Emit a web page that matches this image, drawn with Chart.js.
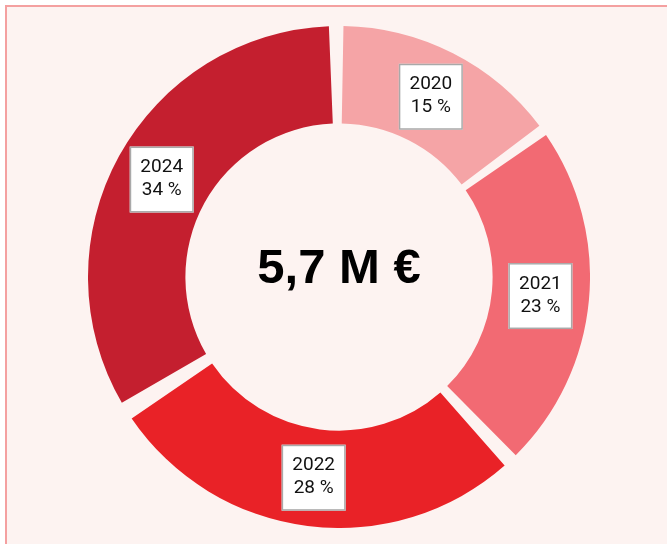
<!DOCTYPE html>
<html>
<head>
<meta charset="utf-8">
<script src="https://cdn.jsdelivr.net/npm/chart.js@4"></script>
<style>
  body { margin: 0; background: #fff; }
  #frame {
    position: absolute; left: 5px; top: 5px; width: 700px; height: 580px;
    border: 2px solid #f4a0a0; background: #fdf3f1;
  }
  #wrap { position: absolute; left: 88px; top: 26px; width: 502px; height: 502px; }
</style>
</head>
<body>
<div id="frame"></div>
<div id="wrap"><canvas id="donut"></canvas></div>
<script>
const years = ['2020', '2021', '2022', '2024'];
const shares = [15, 23, 28, 34];
const colors = ['#f5a4a6', '#f26a73', '#e92227', '#c41f2f'];
const totalLabel = '5,7 M €';

// white boxes with year + share on each slice
const sliceLabels = {
  id: 'sliceLabels',
  afterDatasetsDraw(chart) {
    const ctx = chart.ctx;
    const meta = chart.getDatasetMeta(0);
    ctx.save();
    ctx.font = '19px Roboto';
    ctx.textAlign = 'center';
    ctx.textBaseline = 'middle';
    meta.data.forEach((arc, i) => {
      const p = arc.getCenterPoint();
      const w = 64, h = 66;
      ctx.fillStyle = '#ffffff';
      ctx.fillRect(p.x - w / 2, p.y - h / 2, w, h);
      ctx.strokeStyle = '#a9a9a9';
      ctx.lineWidth = 1.5;
      ctx.strokeRect(p.x - w / 2 + 0.75, p.y - h / 2 + 0.75, w - 1.5, h - 1.5);
      ctx.fillStyle = '#111';
      ctx.fillText(years[i], p.x, p.y - 12);
      ctx.fillText(shares[i] + ' %', p.x, p.y + 11);
    });
    ctx.restore();
  }
};

const centerText = {
  id: 'centerText',
  afterDraw(chart) {
    const ctx = chart.ctx;
    const a = chart.getDatasetMeta(0).data[0];
    ctx.save();
    ctx.font = 'bold 49px "Liberation Sans"';
    ctx.fillStyle = '#000';
    ctx.textAlign = 'center';
    ctx.textBaseline = 'alphabetic';
    ctx.fillText(totalLabel, a.x, a.y + 6);
    ctx.restore();
  }
};

new Chart(document.getElementById('donut'), {
  type: 'doughnut',
  data: {
    labels: years,
    datasets: [
      {
        data: shares,
        backgroundColor: colors,
        borderWidth: 0,
        spacing: 15,
      },
    ],
  },
  options: {
    responsive: true,
    maintainAspectRatio: false,
    animation: false,
    cutout: '60%',
    plugins: {
      legend: { display: false },
      tooltip: { enabled: false },
    },
  },
  plugins: [sliceLabels, centerText],
});
</script>
</body>
</html>
